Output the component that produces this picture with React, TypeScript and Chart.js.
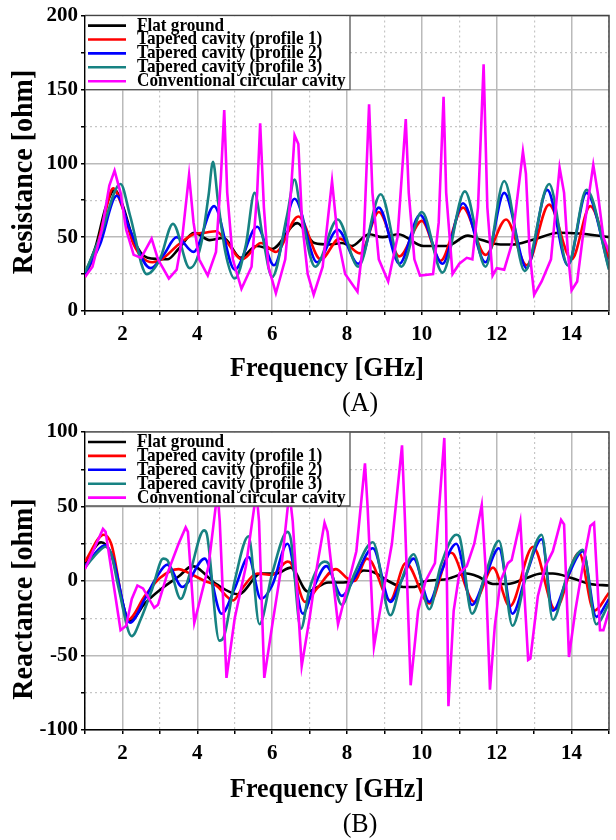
import React, { useEffect, useRef } from 'react';
import { Chart, registerables } from 'chart.js';

Chart.register(...registerables);

const FONT = "'Liberation Serif', 'Times New Roman', serif";

// ---------- Labels / styling ----------
const SERIES_LABELS = [
  'Flat ground',
  'Tapered cavity (profile 1)',
  'Tapered cavity (profile 2)',
  'Tapered cavity (profile 3)',
  'Conventional circular cavity',
];
const SERIES_COLORS = ['#000000', '#ff0000', '#0000ff', '#178282', '#ff00ff'];
const DRAW_ORDER = [4, 3, 2, 1, 0];

const X_MIN = 1;
const X_MAX = 15;
const X_TITLE = 'Frequency [GHz]';
const RES_TITLE = 'Resistance [ohm]';
const REA_TITLE = 'Reactance [ohm]';
const RES_Y_RANGE = [0, 200];
const REA_Y_RANGE = [-100, 100];

// ---------- (A) Resistance data [GHz, ohm] ----------
const resFlat = [
  [1.0, 25], [1.3, 45], [1.55, 70], [1.79, 82], [2.0, 72], [2.3, 48], [2.67, 36], [3.2, 35],
  [3.5, 42], [3.92, 53], [4.33, 48], [4.7, 49.5], [5.16, 36], [5.58, 44], [6.0, 42], [6.67, 59.5],
  [7.13, 46], [7.55, 45], [7.86, 46], [8.12, 44], [8.59, 52], [8.95, 50], [9.37, 52], [10.04, 44],
  [10.66, 44], [11.23, 51], [11.6, 48], [12.1, 45], [12.43, 45], [12.94, 48], [13.67, 53],
  [14.19, 52.5], [15.0, 50],
];
const resProfile1 = [
  [1.0, 23], [1.3, 42], [1.5, 62], [1.75, 83], [2.0, 70], [2.3, 45], [2.8, 33], [3.05, 35],
  [3.5, 45], [3.9, 52], [4.2, 53], [4.5, 54], [4.75, 48], [5.2, 35], [5.7, 46], [6.1, 40],
  [6.7, 64], [7.3, 35], [7.8, 49], [8.35, 39], [8.85, 67], [9.4, 37], [10.0, 61], [10.5, 34],
  [11.1, 70], [11.7, 38], [12.25, 62], [12.8, 31], [13.4, 72], [14.0, 35], [14.5, 71], [15.0, 35],
];
const resProfile2 = [
  [1.0, 25], [1.4, 45], [1.85, 78], [2.2, 55], [2.75, 29], [3.1, 38], [3.45, 50], [3.9, 40],
  [4.45, 71], [5.0, 28], [5.6, 57], [6.05, 31], [6.6, 76], [7.2, 33], [7.75, 55], [8.3, 32],
  [8.85, 70], [9.4, 32], [9.95, 65], [10.55, 32], [11.1, 73], [11.7, 33], [12.2, 80], [12.8, 29],
  [13.35, 82], [13.9, 31], [14.4, 80], [15.0, 29],
];
const resProfile3 = [
  [1.0, 26], [1.4, 50], [1.95, 86], [2.2, 65], [2.65, 25], [3.0, 35], [3.35, 59], [3.8, 29],
  [4.1, 45], [4.3, 78], [4.42, 101], [4.55, 75], [4.75, 40], [5.0, 22], [5.3, 45], [5.53, 80],
  [5.75, 50], [6.0, 23], [6.4, 65], [6.6, 89], [6.75, 70], [7.15, 30], [7.75, 62], [8.3, 30],
  [8.9, 79], [9.45, 30], [10.0, 67], [10.55, 26], [11.15, 81], [11.7, 30], [12.2, 88], [12.75, 27],
  [13.4, 86], [13.9, 31], [14.4, 82], [15.0, 28],
];
const resConventional = [
  [1.0, 23], [1.2, 30], [1.45, 55], [1.65, 85], [1.79, 95], [1.95, 80], [2.1, 55], [2.3, 38],
  [2.5, 36], [2.78, 49], [2.95, 35], [3.24, 22], [3.45, 28], [3.6, 50], [3.78, 92], [3.9, 60],
  [4.05, 35], [4.28, 24], [4.5, 40], [4.63, 90], [4.72, 136], [4.8, 80], [4.95, 35], [5.18, 15],
  [5.45, 30], [5.6, 80], [5.68, 127], [5.78, 70], [5.9, 30], [6.1, 12], [6.35, 35], [6.5, 80],
  [6.6, 119], [6.7, 113], [6.8, 60], [6.95, 25], [7.11, 11], [7.35, 30], [7.6, 88], [7.75, 50],
  [7.95, 25], [8.28, 13], [8.45, 50], [8.59, 140], [8.68, 80], [8.85, 35], [9.1, 20], [9.35, 50],
  [9.57, 130], [9.65, 80], [9.8, 35], [9.95, 24], [10.3, 25], [10.45, 60], [10.58, 145],
  [10.65, 80], [10.82, 25], [11.0, 32], [11.2, 36], [11.35, 35], [11.5, 70], [11.65, 167],
  [11.75, 70], [11.89, 24], [12.0, 29], [12.2, 28], [12.4, 45], [12.7, 108], [12.78, 93],
  [12.88, 40], [13.0, 11], [13.2, 20], [13.45, 35], [13.68, 97], [13.8, 80], [13.9, 40],
  [14.0, 14], [14.15, 20], [14.3, 50], [14.58, 99], [14.7, 80], [14.85, 50], [15.0, 40],
];

// ---------- (B) Reactance data [GHz, ohm] ----------
const reaFlat = [
  [1.0, 12], [1.43, 26], [1.7, 18], [2.2, -27], [2.6, -15], [3.0, -6], [3.5, 3], [3.87, 10],
  [4.5, -2], [5.1, -9], [5.7, 5], [6.1, 5], [6.5, 9], [6.95, -7], [7.5, -1], [7.9, -1], [8.1, 0],
  [8.45, 7], [8.7, 6], [9.1, 0], [9.5, -4], [9.8, -4], [10.1, 0], [10.6, 1], [11.2, 5], [11.5, 3],
  [11.9, -2], [12.3, -2], [12.7, 1], [13.2, 5], [13.5, 5], [14.0, 2], [14.5, -2], [15.0, -3],
];
const reaProfile1 = [
  [1.0, 13], [1.5, 31], [1.7, 25], [2.15, -26], [2.6, -10], [3.0, 2], [3.5, 8], [3.8, 5],
  [4.2, 0], [4.5, -3], [4.96, -13], [5.2, -5], [5.6, 5], [6.0, 4], [6.41, 13], [6.5, 12],
  [6.88, -14], [7.2, -5], [7.7, 8], [8.0, 2], [8.2, 0], [8.53, 15], [8.65, 13], [9.15, -13],
  [9.57, 12], [10.2, -15], [10.77, 19], [10.85, 18], [11.4, -14], [11.9, 9], [12.35, -17],
  [12.97, 23], [13.56, -19], [14.2, 19], [14.6, -20], [15.0, -8],
];
const reaProfile2 = [
  [1.0, 10], [1.55, 24], [1.75, 15], [2.2, -28], [2.6, -12], [2.9, 2], [3.2, 11], [3.6, -4],
  [4.2, 15], [4.65, -22], [5.0, -5], [5.37, 16], [5.7, -12], [6.0, -3], [6.41, 25], [6.82, -22],
  [7.1, -5], [7.45, 10], [7.86, -10], [8.2, 2], [8.69, 22], [9.16, -14], [9.45, 0], [9.78, 15],
  [10.2, -14], [10.5, 5], [10.92, 25], [11.34, -16], [11.7, 3], [12.06, 22], [12.42, -22],
  [12.8, 5], [13.2, 28], [13.5, -20], [13.9, 3], [14.3, 20], [14.66, -24], [15.0, -12],
];
const reaProfile3 = [
  [1.0, 9], [1.3, 18], [1.55, 23], [1.7, 18], [1.9, -5], [2.25, -37], [2.5, -25], [2.8, -5],
  [3.09, 15], [3.2, 14], [3.56, -12], [3.8, 5], [4.18, 34], [4.25, 32], [4.59, -40], [4.7, -38],
  [5.0, 0], [5.37, 30], [5.66, -29], [6.0, 5], [6.41, 33], [6.5, 28], [6.77, -32], [7.0, -5],
  [7.4, 13], [7.5, 12], [7.86, -16], [8.2, 5], [8.69, 26], [9.16, -23], [9.45, 0], [9.78, 18],
  [10.2, -19], [10.5, 10], [10.92, 31], [11.0, 30], [11.34, -22], [11.7, 5], [12.06, 27],
  [12.42, -30], [12.8, 5], [13.2, 31], [13.5, -26], [13.9, 5], [14.3, 21], [14.66, -29],
  [15.0, -15],
];
const reaConventional = [
  [1.0, 8], [1.25, 22], [1.48, 35], [1.55, 33], [1.75, 0], [1.95, -33], [2.1, -30], [2.25, -12],
  [2.4, -3], [2.55, -5], [2.85, -18], [2.95, -16], [3.2, 5], [3.5, 25], [3.69, 36], [3.75, 33],
  [3.92, -28], [4.1, -10], [4.3, 10], [4.54, 60], [4.6, 40], [4.78, -65], [5.0, -25], [5.3, 10],
  [5.58, 60], [5.65, 40], [5.79, -65], [6.0, -30], [6.25, 10], [6.46, 60], [6.55, 40],
  [6.79, -57], [7.0, -25], [7.2, 10], [7.4, 39], [7.48, 33], [7.76, -29], [8.0, -5], [8.25, 20],
  [8.48, 79], [8.55, 50], [8.72, -44], [8.95, -10], [9.2, 25], [9.47, 91], [9.55, 40],
  [9.7, -70], [9.9, -20], [10.1, 0], [10.35, 12], [10.6, 96], [10.65, 40], [10.71, -84],
  [10.85, -20], [11.0, 5], [11.2, 10], [11.4, 25], [11.6, 51], [11.7, 10], [11.82, -73],
  [11.95, -30], [12.1, 0], [12.3, 12], [12.4, 14], [12.63, 40], [12.72, 0], [12.84, -53],
  [12.9, -52], [13.1, -10], [13.3, 10], [13.5, 20], [13.72, 41], [13.8, 38], [13.93, -51],
  [14.1, -20], [14.3, 10], [14.5, 37], [14.6, 39], [14.76, -33], [14.85, -33], [15.0, -20],
];

const RES_SERIES = [resFlat, resProfile1, resProfile2, resProfile3, resConventional];
const REA_SERIES = [reaFlat, reaProfile1, reaProfile2, reaProfile3, reaConventional];

// ---------- styling constants ----------
const MAJOR_GRID = '#bababa';
const MINOR_GRID = '#c6c6c6';
const CLEAR = 'rgba(0,0,0,0)';
const LINE_W = 2.6;

const decorPlugin = {
  id: 'panelDecor',
  afterDatasetsDraw(chart: any) {
    const { ctx, chartArea: ca } = chart;
    ctx.save();
    // frame (top + right)
    ctx.strokeStyle = '#444';
    ctx.lineWidth = 1.5;
    ctx.beginPath();
    ctx.moveTo(ca.left, ca.top);
    ctx.lineTo(ca.right, ca.top);
    ctx.lineTo(ca.right, ca.bottom);
    ctx.stroke();

    // legend box
    const boxW = 265;
    const boxH = 74;
    const l = ca.left;
    const t = ca.top;
    ctx.fillStyle = '#ffffff';
    ctx.fillRect(l + 0.8, t + 0.8, boxW - 0.8, boxH - 0.8);
    ctx.strokeStyle = '#555';
    ctx.lineWidth = 1.3;
    ctx.beginPath();
    ctx.moveTo(l, t + boxH);
    ctx.lineTo(l + boxW, t + boxH);
    ctx.lineTo(l + boxW, t);
    ctx.stroke();

    ctx.font = `bold 17px ${FONT}`;
    ctx.textBaseline = 'middle';
    ctx.textAlign = 'left';
    chart.data.datasets.forEach((ds: any, i: number) => {
      const cy = t + 10 + i * 13.9;
      ctx.strokeStyle = ds.borderColor;
      ctx.lineWidth = LINE_W;
      ctx.beginPath();
      ctx.moveTo(l + 3, cy);
      ctx.lineTo(l + 41, cy);
      ctx.stroke();
      ctx.save();
      ctx.translate(l + 52, cy);
      ctx.scale(1.01, 1.12);
      ctx.fillStyle = '#000';
      ctx.fillText(ds.label, 0, 0);
      ctx.restore();
    });
    ctx.restore();
  },
};

function makeConfig(series: number[][][], yRange: number[], padTop: number, padBottom: number) {
  const datasets = series.map((pts, i) => ({
    label: SERIES_LABELS[i],
    data: pts.map(([x, y]) => ({ x, y })),
    borderColor: SERIES_COLORS[i],
    backgroundColor: SERIES_COLORS[i],
    borderWidth: LINE_W,
    pointRadius: 0,
    fill: false,
    order: DRAW_ORDER[i],
    tension: i === 4 ? 0 : 0.4,
    cubicInterpolationMode: i === 4 ? 'default' : 'monotone',
  }));

  const tickFont = { family: FONT, size: 21, weight: 'bold' as const };

  return {
    type: 'line' as const,
    data: { datasets },
    plugins: [decorPlugin],
    options: {
      responsive: false,
      maintainAspectRatio: false,
      animation: false as const,
      devicePixelRatio: 1,
      events: [],
      layout: { padding: { top: padTop, bottom: padBottom, left: 0, right: 1 } },
      plugins: { legend: { display: false }, tooltip: { enabled: false }, title: { display: false } },
      scales: {
        x: {
          type: 'linear' as const,
          position: 'bottom' as const,
          min: X_MIN,
          max: X_MAX,
          ticks: {
            stepSize: 1,
            autoSkip: false,
            maxRotation: 0,
            padding: 7,
            color: '#000',
            font: tickFont,
            callback: (v: any) => (Number(v) % 2 === 0 ? String(v) : ''),
          },
          grid: {
            color: (c: any) => (c.tick && c.tick.value % 2 === 0 ? MAJOR_GRID : CLEAR),
            lineWidth: 1.5,
            drawTicks: true,
            tickLength: 4,
            tickColor: '#000',
            tickWidth: 1.5,
          },
          border: { display: true, color: '#000', width: 1.5 },
          afterFit: (s: any) => { s.height = 73; },
        },
        xMinor: {
          type: 'linear' as const,
          position: 'bottom' as const,
          min: X_MIN,
          max: X_MAX,
          ticks: { display: false, stepSize: 1, autoSkip: false },
          grid: {
            color: (c: any) => (c.tick && c.tick.value % 2 !== 0 ? MINOR_GRID : CLEAR),
            lineWidth: 1.2,
            drawTicks: false,
          },
          border: { display: false, dash: [2, 3] },
          afterFit: (s: any) => { s.height = 0; },
        },
        y: {
          type: 'linear' as const,
          position: 'left' as const,
          min: yRange[0],
          max: yRange[1],
          ticks: {
            stepSize: 25,
            autoSkip: false,
            padding: 3,
            color: '#000',
            font: tickFont,
            callback: (v: any) => (Number(v) % 50 === 0 ? String(v) : ''),
          },
          grid: {
            color: (c: any) => (c.tick && c.tick.value % 50 === 0 ? MAJOR_GRID : CLEAR),
            lineWidth: 1.5,
            drawTicks: true,
            tickLength: 4,
            tickColor: '#000',
            tickWidth: 1.5,
          },
          border: { display: true, color: '#000', width: 1.5 },
          afterFit: (s: any) => { s.width = 85; },
        },
        yMinor: {
          type: 'linear' as const,
          position: 'left' as const,
          min: yRange[0],
          max: yRange[1],
          ticks: { display: false, stepSize: 25, autoSkip: false },
          grid: {
            color: (c: any) => (c.tick && c.tick.value % 50 !== 0 ? MINOR_GRID : CLEAR),
            lineWidth: 1.2,
            drawTicks: false,
          },
          border: { display: false, dash: [2, 3] },
          afterFit: (s: any) => { s.width = 0; },
        },
      },
    },
  };
}

function ChartCanvas(props: { top: number; height: number; series: number[][][]; yRange: number[]; padTop: number; padBottom: number }) {
  const ref = useRef<HTMLCanvasElement | null>(null);
  useEffect(() => {
    if (!ref.current) return;
    const chart = new Chart(ref.current, makeConfig(props.series, props.yRange, props.padTop, props.padBottom) as any);
    return () => chart.destroy();
  }, []);
  return (
    <canvas
      ref={ref}
      width={616}
      height={props.height}
      style={{ position: 'absolute', left: 0, top: props.top, width: 616, height: props.height, display: 'block' }}
    />
  );
}

function Label(props: { x: number; y: number; size: number; bold?: boolean; rotate?: boolean; text: string }) {
  return (
    <div
      style={{
        position: 'absolute',
        left: props.x,
        top: props.y,
        transform: `translate(-50%, -50%)${props.rotate ? ' rotate(-90deg) scaleY(1.06)' : ' scaleY(1.06)'}`,
        fontFamily: FONT,
        fontSize: props.size,
        fontWeight: props.bold ? 'bold' : 'normal',
        lineHeight: 1,
        whiteSpace: 'nowrap',
        color: '#000',
      }}
    >
      {props.text}
    </div>
  );
}

export default function App() {
  return (
    <div style={{ position: 'absolute', left: 0, top: 0, width: 616, height: 840, overflow: 'hidden', background: '#fff' }}>
      <ChartCanvas top={0} height={415} series={RES_SERIES} yRange={RES_Y_RANGE} padTop={15} padBottom={31} />
      <ChartCanvas top={415} height={425} series={REA_SERIES} yRange={REA_Y_RANGE} padTop={17} padBottom={37} />
      <Label x={21.5} y={172} size={28} bold rotate text={RES_TITLE} />
      <Label x={327} y={368} size={26} bold text={X_TITLE} />
      <Label x={360} y={403} size={26} text="(A)" />
      <Label x={21.5} y={599} size={28} bold rotate text={REA_TITLE} />
      <Label x={327} y={789} size={26} bold text={X_TITLE} />
      <Label x={360} y={824} size={26} text="(B)" />
    </div>
  );
}
